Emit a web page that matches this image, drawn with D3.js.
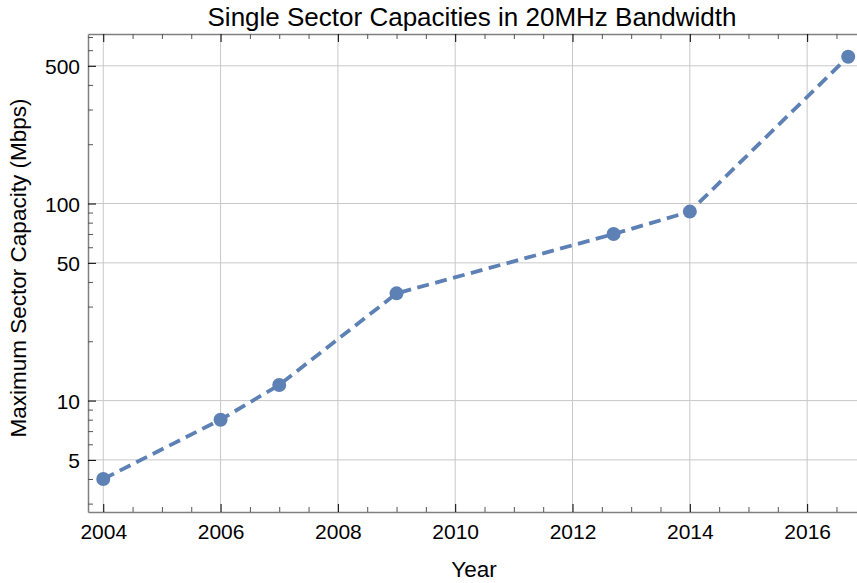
<!DOCTYPE html>
<html lang="en">
<head>
<meta charset="UTF-8">
<title>Single Sector Capacities</title>
<script src="https://d3js.org/d3.v7.min.js"></script>
<style>
  body { margin: 0; background: #fff; }
  text { font-family: "Liberation Sans", Arial, sans-serif; }
</style>
</head>
<body>
<div id="chart"></div>
<script>
// data
var years = [2004, 2006, 2007, 2009, 2012.7, 2014, 2016.7];
var capacity = [4.0, 8.0, 12.0, 35, 70, 91, 556];
var xMajorTicks = [2004, 2006, 2008, 2010, 2012, 2014, 2016];
var yMajorTicks = [5, 10, 50, 100, 500];

var W = 857, H = 583;
var margin = {left: 88, top: 34, right: 0, bottom: 71};

var svg = d3.select("#chart").append("svg")
    .attr("width", W).attr("height", H);

var x = d3.scaleLinear().domain([2003.74, 2016.85]).range([margin.left, W - margin.right]);
var y = d3.scaleLog().domain([2.72, 725]).range([H - margin.bottom, margin.top]);

var xMinor = d3.range(2003.5, 2017.01, 0.5).filter(function(d) { return d >= x.domain()[0] && d <= x.domain()[1]; });
var yMinor = [];
[1, 10, 100].forEach(function(dec) {
  for (var k = 1; k <= 9; k++) {
    var v = dec * k;
    if (v >= y.domain()[0] && v <= y.domain()[1]) yMinor.push(v);
  }
});

// grid
var grid = svg.append("g");
grid.selectAll(".gx").data(xMajorTicks).enter().append("line")
    .attr("x1", function(d) { return x(d); }).attr("x2", function(d) { return x(d); })
    .attr("y1", y.range()[1]).attr("y2", y.range()[0])
    .attr("stroke", "#c8c8c8").attr("stroke-width", 1);
grid.selectAll(".gy").data(yMajorTicks).enter().append("line")
    .attr("x1", x.range()[0]).attr("x2", x.range()[1])
    .attr("y1", function(d) { return y(d); }).attr("y2", function(d) { return y(d); })
    .attr("stroke", "#c8c8c8").attr("stroke-width", 1);

// axes
var noLabel = function() { return ""; };
var axisB = d3.axisBottom(x).tickValues(xMinor).tickSizeOuter(0)
    .tickFormat(function(d) { return xMajorTicks.indexOf(d) >= 0 ? d3.format("d")(d) : ""; });
var axisT = d3.axisTop(x).tickValues(xMinor).tickSizeOuter(0).tickFormat(noLabel);
var axisL = d3.axisLeft(y).tickValues(yMinor).tickSizeOuter(0)
    .tickFormat(function(d) { return yMajorTicks.indexOf(d) >= 0 ? d : ""; });

// ticks point into the plot; majors longer and darker
function styleAxis(g, majors, attr, sign) {
  g.select(".domain").attr("stroke", "#808080").attr("stroke-width", 1.5);
  g.selectAll(".tick line")
    .attr(attr, function(d) { return sign * (majors.indexOf(d) >= 0 ? 8 : 5); })
    .attr("stroke", function(d) { return majors.indexOf(d) >= 0 ? "#000" : "#555"; });
  g.selectAll(".tick text").attr("font-size", 21).attr("fill", "#000")
    .attr("font-family", "Liberation Sans, Arial, sans-serif");
}

var gb = svg.append("g").attr("transform", "translate(0," + y.range()[0] + ")").call(axisB);
styleAxis(gb, xMajorTicks, "y2", -1);
gb.selectAll(".tick text").attr("y", 27).attr("dy", 0);

var gt = svg.append("g").attr("transform", "translate(0," + y.range()[1] + ")").call(axisT);
styleAxis(gt, xMajorTicks, "y2", 1);

var gl = svg.append("g").attr("transform", "translate(" + x.range()[0] + ",0)").call(axisL);
styleAxis(gl, yMajorTicks, "x2", 1);
gl.selectAll(".tick text").attr("x", -8).attr("dy", "0.36em");

// series
var pts = years.map(function(d, i) { return [d, capacity[i]]; });
var line = d3.line().x(function(d) { return x(d[0]); }).y(function(d) { return y(d[1]); });
svg.append("path").datum(pts).attr("d", line)
    .attr("fill", "none").attr("stroke", "#5e81b5").attr("stroke-width", 3.8)
    .attr("stroke-dasharray", "12,6.5");
svg.selectAll(".pt").data(pts).enter().append("circle")
    .attr("cx", function(d) { return x(d[0]); }).attr("cy", function(d) { return y(d[1]); })
    .attr("r", 7).attr("fill", "#5e81b5");

// labels
svg.append("text").attr("x", 472).attr("y", 26).attr("text-anchor", "middle")
    .attr("font-size", 26).text("Single Sector Capacities in 20MHz Bandwidth");
svg.append("text").attr("x", 474).attr("y", 577).attr("text-anchor", "middle")
    .attr("font-size", 22.5).text("Year");
svg.append("text").attr("transform", "translate(26,268) rotate(-90)").attr("text-anchor", "middle")
    .attr("font-size", 22.5).text("Maximum Sector Capacity (Mbps)");
</script>
</body>
</html>
